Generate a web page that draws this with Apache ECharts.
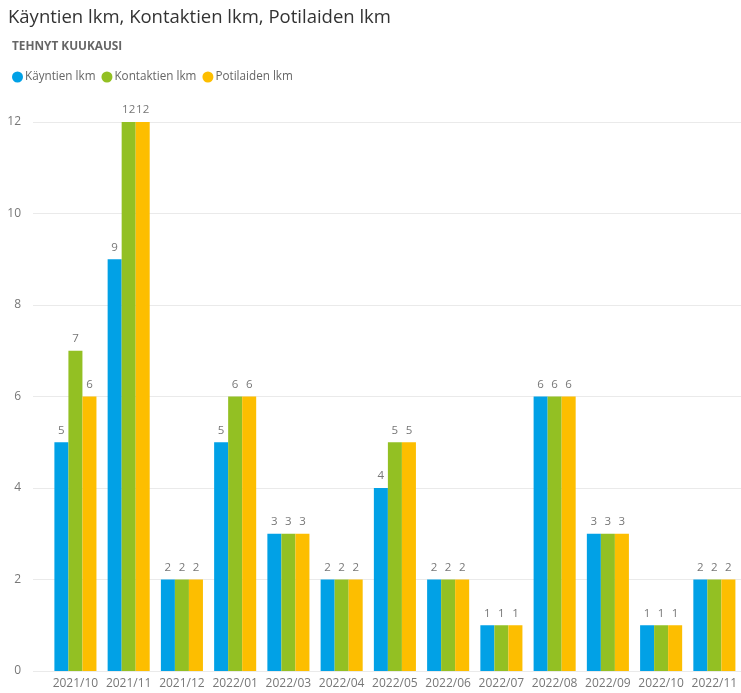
<!DOCTYPE html>
<html>
<head>
<meta charset="utf-8">
<script src="https://cdn.jsdelivr.net/npm/echarts@6/dist/echarts.min.js"></script>
<style>html,body{margin:0;padding:0;background:#fff;}#c{width:741px;height:693px;}</style>
</head>
<body>
<div id="c"></div>
<script>
const categories = ['2021/10','2021/11','2021/12','2022/01','2022/03','2022/04','2022/05','2022/06','2022/07','2022/08','2022/09','2022/10','2022/11'];
const kayntien = [5,9,2,5,3,2,4,2,1,6,3,1,2];
const kontaktien = [7,12,2,6,3,2,5,2,1,6,3,1,2];
const potilaiden = [6,12,2,6,3,2,5,2,1,6,3,1,2];
const seriesNames = ['Käyntien lkm','Kontaktien lkm','Potilaiden lkm'];
const yTicks = {min:0, max:12, interval:2};

const font = '"Open Sans", "Noto Sans", sans-serif';
const colors = ['#01A1E6','#93C023','#FDBE00'];
const chart = echarts.init(document.getElementById('c'));
function bar(name, data, color) {
  return {
    name, type:'bar', data, xAxisIndex:1, yAxisIndex:1,
    itemStyle:{color},
    barGap:'0%', barCategoryGap:'21%',
    label:{show:true, position:'top', distance:6, color:'#777', fontSize:11.5, fontFamily:font},
    emphasis:{disabled:true}
  };
}
chart.setOption({
  animation:false,
  color: colors,
  title:[
    {text:'Käyntien lkm, Kontaktien lkm, Potilaiden lkm', left:3, top:3,
     textStyle:{fontFamily:font, fontSize:18.5, fontWeight:'normal', color:'#333'}},
    {text:'TEHNYT KUUKAUSI', left:7, top:36,
     textStyle:{fontFamily:font, fontSize:11.8, fontWeight:'bold', color:'#666'}}
  ],
  legend:{
    left:7, top:66, itemWidth:11, itemHeight:11, itemGap:6, icon:'circle',
    textStyle:{fontFamily:font, fontSize:11.7, color:'#666', padding:[0,0,0,-3]},
    data: seriesNames
  },
  grid:[
    {left:33, right:0, top:122, bottom:22},
    {left:48.8, right:-2, top:122, bottom:22}
  ],
  xAxis:[
    {type:'category', gridIndex:0, show:false, data:categories},
    {type:'category', gridIndex:1, data:categories,
     axisLine:{show:false}, axisTick:{show:false},
     axisLabel:{color:'#777', fontSize:12, fontFamily:font, margin:7, interval:0}}
  ],
  yAxis:[
    {type:'value', gridIndex:0, min:yTicks.min, max:yTicks.max, interval:yTicks.interval,
     axisLine:{show:false}, axisTick:{show:false},
     axisLabel:{color:'#777', fontSize:12, fontFamily:font, margin:12},
     splitLine:{lineStyle:{color:'#EAEAEA', width:1}}},
    {type:'value', gridIndex:1, min:yTicks.min, max:yTicks.max, interval:yTicks.interval, show:false,
     splitLine:{show:false}}
  ],
  series:[
    bar(seriesNames[0], kayntien, colors[0]),
    bar(seriesNames[1], kontaktien, colors[1]),
    bar(seriesNames[2], potilaiden, colors[2])
  ]
});
</script>
</body>
</html>
